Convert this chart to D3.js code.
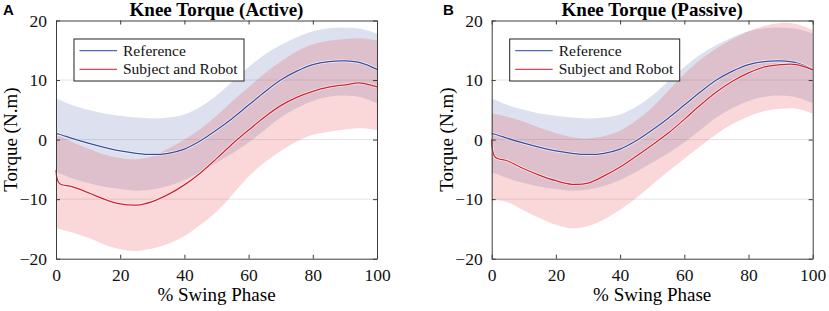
<!DOCTYPE html>
<html>
<head>
<meta charset="utf-8">
<script src="https://cdn.jsdelivr.net/npm/d3@7/dist/d3.min.js"></script>
<style>
  body { margin: 0; background: #fff; }
  svg { display: block; }
</style>
</head>
<body>
<div id="chart"></div>
<script>
// % swing phase sample points
const phase = [0, 1, 5, 10, 15, 20, 25, 30, 35, 40, 45, 50, 55, 60, 65, 70, 75, 80, 85, 90, 95, 100];

// reference (same in both panels)
const refMean  = [1.0, 0.9, 0.2, -0.6, -1.3, -1.9, -2.3, -2.5, -2.3, -1.6, -0.2, 1.6, 3.6, 5.8, 8.0, 10.0, 11.5, 12.6, 13.1, 13.2, 12.9, 11.8];
const refUpper = [6.8, 6.7, 5.8, 5.0, 4.4, 4.0, 3.7, 3.55, 3.7, 4.2, 5.5, 7.4, 9.8, 12.2, 14.3, 15.9, 17.2, 18.2, 18.7, 18.8, 18.6, 17.8];
const refLower = [-5.6, -5.7, -6.5, -7.3, -7.9, -8.3, -8.6, -8.4, -7.8, -6.8, -5.4, -3.9, -2.3, -0.5, 1.6, 3.7, 5.3, 6.5, 7.2, 7.4, 7.1, 6.1];

// subject and robot, active
const activeMean  = [-5.1, -7.3, -7.9, -8.9, -10.0, -10.8, -11.0, -10.4, -9.2, -7.6, -5.6, -3.2, -0.7, 1.6, 3.8, 5.7, 7.1, 8.1, 8.8, 9.2, 9.5, 8.85];
const activeUpper = [0.7, 0.6, -0.4, -1.5, -2.5, -3.1, -3.3, -2.8, -1.5, 0.0, 1.8, 4.0, 6.5, 8.8, 11.1, 13.1, 14.8, 16.0, 16.6, 16.9, 17.0, 16.6];
const activeLower = [-14.9, -15.0, -15.6, -16.5, -17.6, -18.4, -18.7, -18.3, -17.5, -16.2, -14.3, -12.1, -9.2, -6.2, -3.8, -1.9, -0.3, 0.8, 1.3, 1.7, 1.9, 1.6];

// subject and robot, passive
const passiveMean  = [0.0, -2.9, -3.6, -4.9, -6.0, -6.9, -7.5, -7.3, -6.1, -4.6, -2.8, -0.9, 1.1, 3.4, 5.8, 8.0, 9.8, 11.2, 12.2, 12.6, 12.6, 11.7];
const passiveUpper = [4.4, 4.3, 3.8, 3.0, 2.0, 1.1, 0.4, 0.2, 0.6, 1.5, 3.2, 5.4, 8.2, 11.0, 13.4, 15.3, 16.9, 18.2, 19.1, 19.6, 19.4, 18.4];
const passiveLower = [-10.0, -10.1, -10.5, -11.9, -13.2, -14.3, -14.9, -14.5, -13.4, -11.8, -9.8, -7.6, -5.3, -3.2, -1.1, 0.9, 2.6, 3.9, 4.8, 5.2, 5.2, 4.4];

const xTicks = [0, 20, 40, 60, 80, 100];
const yTicks = [-20, -10, 0, 10, 20];
const gridValues = [-10, 0, 10];
const legendLabels = ["Reference", "Subject and Robot"];

const panels = [
  { letter: "A", title: "Knee Torque (Active)", mean: activeMean, upper: activeUpper, lower: activeLower, left: 56, letterX: 3 },
  { letter: "B", title: "Knee Torque (Passive)", mean: passiveMean, upper: passiveUpper, lower: passiveLower, left: 491.7, letterX: 443 }
];

const W = 829, H = 311;
const plotW = 321, plotTop = 20.5, plotBottom = 258.7;
const serif = "'Liberation Serif', 'Times New Roman', serif";
const blue = "#3a4c9e", red = "#d3202f";
const blueFill = "rgba(68,88,165,0.18)", redFill = "rgba(232,60,72,0.2)";
const curve = d3.curveCatmullRom.alpha(0.5);

const svg = d3.select("#chart").append("svg")
  .attr("width", W).attr("height", H);

panels.forEach(p => {
  const x = d3.scaleLinear().domain([0, 100]).range([p.left, p.left + plotW]);
  const y = d3.scaleLinear().domain([-20, 20]).range([plotBottom, plotTop]);
  const g = svg.append("g");

  // grid
  g.selectAll(".grid").data(gridValues).enter().append("line")
    .attr("x1", x(0)).attr("x2", x(100))
    .attr("y1", d => y(d)).attr("y2", d => y(d))
    .attr("stroke", "#e3e3e3").attr("stroke-width", 1);

  const band = (up, lo) => d3.area()
    .x((d, i) => x(phase[i]))
    .y0((d, i) => y(lo[i]))
    .y1((d, i) => y(up[i]))
    .curve(curve)(phase);
  const line = vals => d3.line()
    .x((d, i) => x(phase[i]))
    .y((d, i) => y(vals[i]))
    .curve(curve)(phase);

  g.append("path").attr("d", band(refUpper, refLower)).attr("fill", blueFill);
  g.append("path").attr("d", band(p.upper, p.lower)).attr("fill", redFill);

  [[refMean, blue], [p.mean, red]].forEach(([vals, c]) => {
    g.append("path").attr("d", line(vals)).attr("fill", "none")
      .attr("stroke", "#fff").attr("stroke-opacity", 0.8).attr("stroke-width", 2.6);
    g.append("path").attr("d", line(vals)).attr("fill", "none")
      .attr("stroke", c).attr("stroke-width", 1.25);
  });

  // axes (inward ticks on all four sides)
  const tl = 4;
  g.append("g").attr("transform", `translate(0,${plotBottom})`)
    .call(d3.axisBottom(x).tickValues(xTicks).tickSizeInner(-tl).tickSizeOuter(0).tickPadding(10));
  g.append("g").attr("transform", `translate(0,${plotTop})`)
    .call(d3.axisTop(x).tickValues(xTicks).tickSizeInner(-tl).tickSizeOuter(0).tickFormat(""));
  g.append("g").attr("transform", `translate(${p.left},0)`)
    .call(d3.axisLeft(y).tickValues(yTicks).tickSizeInner(-tl).tickSizeOuter(0).tickPadding(9));
  g.append("g").attr("transform", `translate(${p.left + plotW},0)`)
    .call(d3.axisRight(y).tickValues(yTicks).tickSizeInner(-tl).tickSizeOuter(0).tickFormat(""));
  g.selectAll(".domain").attr("stroke", "#3c3c3c");
  g.selectAll(".tick line").attr("stroke", "#3c3c3c");
  g.selectAll(".tick text").attr("font-family", serif).attr("font-size", 17.5).attr("fill", "#111");

  // titles and labels
  g.append("text").attr("x", x(50)).attr("y", 16).attr("text-anchor", "middle")
    .attr("font-family", serif).attr("font-weight", "bold").attr("font-size", 19)
    .text(p.title);
  g.append("text").attr("x", p.letterX).attr("y", 15)
    .attr("font-family", "'Liberation Sans', Arial, sans-serif").attr("font-weight", "bold").attr("font-size", 15)
    .text(p.letter);
  g.append("text").attr("x", x(50)).attr("y", 301).attr("text-anchor", "middle")
    .attr("font-family", serif).attr("font-size", 19).text("% Swing Phase");
  g.append("text").attr("transform", `translate(${p.left - 39},${(plotTop + plotBottom) / 2}) rotate(-90)`)
    .attr("text-anchor", "middle").attr("font-family", serif).attr("font-size", 19)
    .text("Torque (N.m)");

  // legend
  const lg = g.append("g").attr("transform", `translate(${p.left + 18},39)`);
  lg.append("rect").attr("width", 170).attr("height", 42)
    .attr("fill", "#fff").attr("stroke", "#222").attr("stroke-width", 1);
  legendLabels.forEach((lab, i) => {
    const ly = 11.7 + i * 18.6;
    lg.append("line").attr("x1", 5.5).attr("x2", 43).attr("y1", ly).attr("y2", ly)
      .attr("stroke", i === 0 ? "#4f68b4" : "#dc4656").attr("stroke-width", 1.3);
    lg.append("text").attr("x", 49).attr("y", ly + 5)
      .attr("font-family", serif).attr("font-size", 15.5).attr("fill", "#111").text(lab);
  });
});
</script>
</body>
</html>
